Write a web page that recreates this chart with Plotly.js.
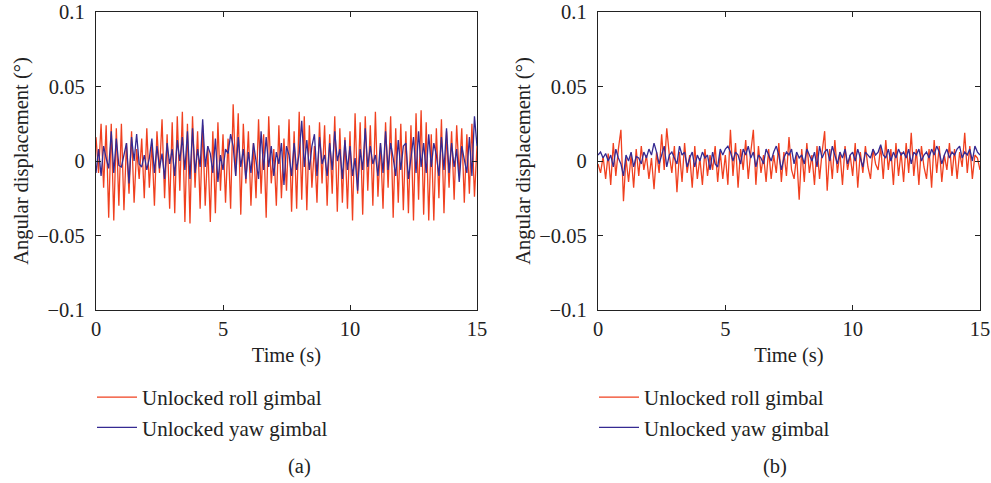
<!DOCTYPE html>
<html>
<head>
<meta charset="utf-8">
<script src="https://cdn.plot.ly/plotly-3.0.1.min.js"></script>
<style>html,body{margin:0;padding:0;background:#fff}#chart{width:991px;height:483px}</style>
</head>
<body>
<div id="chart"></div>
<script>
// Sampling: 0.1 s over 0..15 s
const sampleStep = 0.1;
const sampleCount = 151;

const rollA = [
 0.016,-0.008,0.025,-0.018,0.024,-0.038,0.025,-0.040,0.022,-0.030,
 0.025,-0.033,0.012,-0.022,0.020,-0.028,0.008,-0.012,0.015,-0.025,
 0.022,-0.018,0.012,-0.030,0.020,-0.008,0.028,-0.025,0.018,-0.032,
 0.026,-0.035,0.030,-0.020,0.033,-0.041,0.025,-0.042,0.030,-0.018,
 0.020,-0.032,0.024,-0.030,0.010,-0.041,0.020,-0.035,0.026,-0.020,
 0.018,-0.028,0.015,-0.032,0.038,-0.010,0.032,-0.036,0.025,-0.015,
 0.020,-0.030,0.012,-0.025,0.028,-0.022,0.018,-0.038,0.030,-0.015,
 0.008,-0.030,0.024,-0.025,0.015,-0.020,0.028,-0.034,0.020,-0.032,
 0.033,-0.026,0.030,-0.033,0.024,-0.018,0.010,-0.028,0.026,-0.015,
 0.024,-0.030,0.018,-0.022,0.030,-0.034,0.022,-0.028,0.016,-0.032,
 0.020,-0.040,0.032,-0.022,0.026,-0.036,0.030,-0.020,0.024,-0.030,
 0.033,-0.024,0.012,-0.032,0.026,-0.018,0.030,-0.038,0.022,-0.028,
 0.025,-0.033,0.020,-0.035,0.024,-0.040,0.032,-0.026,0.034,-0.036,
 0.026,-0.040,0.018,-0.040,0.022,-0.025,0.028,-0.035,0.020,-0.018,
 0.020,-0.026,0.024,-0.010,0.022,-0.028,0.018,-0.022,0.025,-0.024,
 0.010];

const yawA = [
 -0.008,0.008,-0.010,0.010,0.002,-0.005,0.020,-0.008,0.015,-0.003,
 -0.004,0.005,0.012,-0.015,0.016,0.000,0.018,-0.002,-0.004,0.004,
 -0.006,0.002,0.015,-0.008,0.010,-0.005,0.005,-0.012,0.012,-0.002,
 0.008,-0.010,0.014,0.000,0.016,-0.006,0.020,-0.012,0.022,-0.008,
 0.008,-0.004,0.028,-0.004,0.010,0.005,-0.008,0.015,-0.014,0.004,
 -0.006,0.008,0.005,0.018,0.010,-0.010,0.016,-0.004,0.008,-0.012,
 0.006,-0.008,0.012,0.000,-0.012,0.020,-0.006,0.016,-0.004,0.010,
 -0.010,0.006,-0.002,0.012,-0.016,0.010,0.004,-0.010,0.012,-0.006,
 0.005,0.027,-0.004,0.014,-0.006,0.010,0.018,-0.010,0.016,-0.002,
 0.004,-0.010,0.012,-0.006,0.020,0.000,0.008,-0.012,0.014,-0.006,
 0.010,-0.010,0.002,-0.020,0.008,-0.006,0.022,-0.004,0.010,-0.002,
 0.004,-0.010,0.012,-0.008,0.020,-0.006,0.012,0.002,-0.010,0.014,
 -0.006,0.010,0.012,-0.012,0.002,0.016,-0.008,0.020,-0.004,0.012,
 -0.008,0.018,-0.004,0.012,0.004,-0.010,0.016,-0.006,0.022,-0.008,
 0.012,-0.004,0.008,-0.014,0.010,0.002,-0.008,0.016,-0.010,0.030,
 0.010];

const rollB = [
 -0.002,-0.008,0.003,-0.012,0.005,-0.016,0.012,-0.010,0.008,0.021,
 -0.027,0.002,-0.014,0.004,-0.018,0.008,-0.010,0.010,-0.006,0.004,
 -0.012,0.002,-0.019,0.006,-0.008,0.018,-0.006,0.022,0.004,-0.008,
 0.010,-0.021,0.006,-0.014,0.012,-0.008,0.004,-0.018,0.010,-0.012,
 0.002,-0.016,0.008,-0.010,0.004,-0.006,0.010,-0.014,0.006,-0.012,
 0.004,-0.016,0.021,-0.010,0.012,-0.018,0.008,-0.006,0.014,-0.012,
 0.006,0.021,-0.016,0.010,-0.008,0.004,-0.014,0.008,-0.012,0.004,
 -0.008,0.012,-0.014,0.006,-0.010,0.016,-0.006,-0.012,0.004,-0.026,
 0.008,-0.014,0.012,-0.008,0.004,-0.016,0.010,-0.012,0.006,0.020,
 -0.020,0.008,-0.012,0.014,-0.008,0.006,-0.016,0.010,-0.006,0.004,
 -0.010,0.012,-0.018,0.006,-0.008,0.010,-0.004,-0.012,0.008,-0.002,
 -0.006,0.010,-0.012,0.014,-0.006,0.008,-0.016,0.012,-0.010,0.006,
 -0.014,0.012,-0.008,0.019,-0.010,0.008,-0.016,0.010,-0.004,-0.012,
 0.008,-0.018,0.014,-0.008,0.010,-0.014,0.004,-0.006,0.012,-0.010,
 0.008,-0.012,0.006,-0.004,0.019,-0.008,0.010,-0.012,0.004,0.002,
 -0.006];

const yawB = [
 0.004,0.006,0.002,0.005,0.000,0.004,-0.004,0.008,0.002,-0.002,
 -0.010,0.004,0.000,0.006,-0.004,0.003,0.002,-0.002,0.006,0.002,
 0.008,0.004,0.012,0.006,-0.002,0.004,0.010,-0.004,0.004,0.006,
 0.002,-0.002,0.010,0.004,0.006,-0.004,0.002,0.006,-0.004,0.004,
 0.000,0.006,0.002,0.004,-0.006,0.006,-0.002,-0.004,0.008,0.004,
 0.008,0.010,0.006,0.000,0.006,0.004,-0.002,0.008,0.004,0.010,
 0.002,0.006,-0.004,0.004,0.002,-0.002,0.008,0.004,0.000,0.006,
 0.010,0.004,-0.006,0.002,0.006,0.004,0.008,-0.002,0.006,0.002,
 0.004,-0.002,0.008,0.004,0.000,0.006,-0.004,0.010,0.002,0.006,
 0.008,0.000,0.010,0.004,-0.002,0.006,0.002,0.008,-0.002,0.004,
 0.006,0.000,0.008,0.002,-0.004,0.006,0.004,0.002,0.008,0.004,
 0.006,0.011,0.004,0.002,0.008,0.000,0.006,0.002,0.008,0.004,
 0.006,0.002,0.008,-0.002,0.006,0.004,0.008,0.000,0.004,0.006,
 0.002,0.008,0.004,0.010,0.006,-0.002,0.004,0.008,0.002,0.006,
 0.004,0.008,0.010,0.002,0.006,0.004,0.008,0.000,0.010,0.006,
 0.004];

const seriesNames = ["Unlocked roll gimbal", "Unlocked yaw gimbal"];
const yTickVals = [-0.1, -0.05, 0, 0.05, 0.1];
const yTickText = ["\u22120.1", "\u22120.05", "0", "0.05", "0.1"];
const xTickVals = [0, 5, 10, 15];
const captions = ["(a)", "(b)"];

const time = [];
for (let i = 0; i < sampleCount; i++) time.push(Math.round(i * sampleStep * 10) / 10);

const RED = "#f0401f", BLUE = "#352a92";
const FONT = "Liberation Serif";
const FS = 20.5;

const traces = [
  {x: time, y: rollA, type: "scatter", mode: "lines", name: seriesNames[0], line: {color: RED, width: 1.3}, xaxis: "x", yaxis: "y", legend: "legend"},
  {x: time, y: yawA, type: "scatter", mode: "lines", name: seriesNames[1], line: {color: BLUE, width: 1.3}, xaxis: "x", yaxis: "y", legend: "legend"},
  {x: time, y: rollB, type: "scatter", mode: "lines", name: seriesNames[0], line: {color: RED, width: 1.3}, xaxis: "x2", yaxis: "y2", legend: "legend2"},
  {x: time, y: yawB, type: "scatter", mode: "lines", name: seriesNames[1], line: {color: BLUE, width: 1.3}, xaxis: "x2", yaxis: "y2", legend: "legend2"}
];

const W = 991, H = 483;
const yDom = [1 - 310 / H, 1 - 12 / H];
function xAx(dom, anchor) {
  return {domain: dom, anchor: anchor, range: [0, 15], tickvals: xTickVals, ticks: "inside", ticklen: 5,
    tickcolor: "#222", showline: true, linecolor: "#222", linewidth: 1.2, mirror: "ticks", showgrid: false, zeroline: false,
    tickfont: {family: FONT, size: FS, color: "#222"},
    title: {text: "Time (s)", font: {family: FONT, size: FS, color: "#222"}, standoff: 8}};
}
function yAx(anchor) {
  return {domain: yDom, anchor: anchor, range: [-0.1, 0.1], tickvals: yTickVals, ticktext: yTickText, ticks: "inside", ticklen: 5,
    tickcolor: "#222", showline: true, linecolor: "#222", linewidth: 1.2, mirror: "ticks", showgrid: false, zeroline: false,
    ticklabelstandoff: 6,
    tickfont: {family: FONT, size: FS, color: "#222"},
    title: {text: "Angular displacement (\u00b0)", font: {family: FONT, size: FS, color: "#222"}, standoff: 3}};
}
function leg(xpx) {
  return {x: xpx / W, y: 1 - 377 / H, xanchor: "left", yanchor: "top", orientation: "v",
    font: {family: FONT, size: 21, color: "#222"}, bgcolor: "rgba(0,0,0,0)", itemwidth: 40, tracegroupgap: 0};
}

const layout = {
  width: W, height: H, margin: {l: 0, r: 0, t: 0, b: 0},
  paper_bgcolor: "#fff", plot_bgcolor: "#fff", showlegend: true,
  xaxis: xAx([96 / W, 477 / W], "y"),
  yaxis: yAx("x"),
  xaxis2: xAx([598 / W, 980 / W], "y2"),
  yaxis2: yAx("x2"),
  legend: leg(92),
  legend2: leg(594),
  annotations: [
    {text: captions[0], xref: "paper", yref: "paper", x: 286 / W, y: 1 - 466 / H, yanchor: "middle", showarrow: false, font: {family: FONT, size: FS, color: "#222"}},
    {text: captions[1], xref: "paper", yref: "paper", x: 789 / W, y: 1 - 466 / H, yanchor: "middle", showarrow: false, font: {family: FONT, size: FS, color: "#222"}}
  ]
};

Plotly.newPlot("chart", traces, layout, {displayModeBar: false, staticPlot: true});
</script>
</body>
</html>
